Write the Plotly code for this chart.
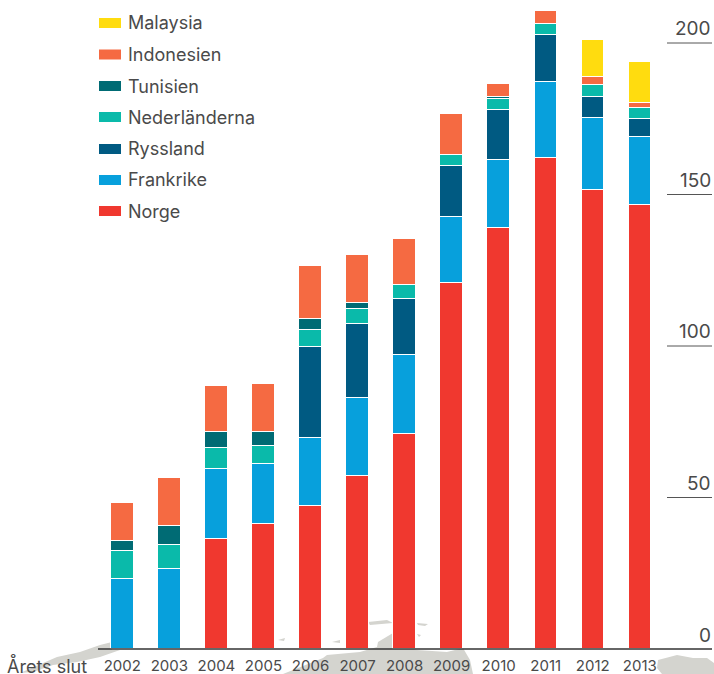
import plotly.graph_objects as go

W, H = 714, 674
BASE = 649

years = [2002, 2003, 2004, 2005, 2006, 2007, 2008, 2009, 2010, 2011, 2012, 2013]
norge = [None, None, 36.4, 41.1, 47.3, 57.2, 70.8, 120.9, 139.1, 162.2, 151.6, 146.7]
frankrike = [23.1, 26.4, 23.1, 20.1, 22.4, 25.7, 26.1, 21.8, 22.4, 24.8, 23.8, 22.4]
ryssland = [None, None, None, None, 30.0, 24.4, 18.5, 16.8, 16.5, 15.8, 6.9, 5.9]
nederlanderna = [9.2, 7.9, 6.9, 5.9, 5.6, 5.0, 4.6, 3.6, 3.6, 3.6, 4.0, 3.6]
tunisien = [3.3, 6.3, 5.3, 4.6, 3.6, 2.0, None, None, 0.6, None, None, None]
indonesien = [12.5, 15.8, 15.2, 15.8, 17.5, 15.8, 15.2, 13.5, 4.3, 4.0, 2.6, 1.7]
malaysia = [None, None, None, None, None, None, None, None, None, None, 12.2, 13.5]

series_names = ["Norge", "Frankrike", "Ryssland", "Nederländerna", "Tunisien", "Indonesien", "Malaysia"]
series_values = [norge, frankrike, ryssland, nederlanderna, tunisien, indonesien, malaysia]
series_colors = ["#F0382F", "#07A0DC", "#005A82", "#0ABAAA", "#006B74", "#F56A42", "#FFDC0F"]

y_ticks = [50, 100, 150, 200]
x_title = "Årets slut"
TEXT = "#4a4a4a"
FONT = "Inter"

# Decorative background map, in page pixels
map_shapes_px = [
    [(20, 673), (57, 657), (80, 652), (100, 645), (112, 642), (112, 650), (120, 650), (100, 657), (77, 662), (53, 665), (33, 672)],
    [(283, 674), (323, 658), (327, 655), (360, 652), (377, 647), (378, 642), (393, 633), (395, 643), (417, 650), (447, 652), (463, 648), (470, 660), (473, 674)],
    [(368, 622), (387, 620), (393, 623), (370, 625)],
    [(417, 623), (428, 624), (425, 626), (418, 625)],
    [(278, 640), (285, 638), (284, 641)],
    [(332, 642), (340, 640), (340, 643)],
    [(417, 634), (421, 635), (419, 637)],
    [(658, 660), (677, 655), (693, 658), (707, 658), (714, 663), (714, 674), (662, 674), (657, 668)],
]


def px(x):
    return x / W


def py(y):
    return 1 - y / BASE


fig = go.Figure()
for name, vals, col in zip(series_names, series_values, series_colors):
    fig.add_bar(x=years, y=vals, name=name, width=0.478, showlegend=False,
                marker=dict(color=col, line=dict(color="#ffffff", width=1)))

shapes = []
for poly in map_shapes_px:
    d = "M" + "L".join(f"{px(a):.5f},{py(b):.5f}" for a, b in poly) + "Z"
    shapes.append(dict(type="path", path=d, xref="paper", yref="paper", layer="below",
                       fillcolor="#d4d4cf", line=dict(width=0)))
shapes.append(dict(type="line", xref="paper", yref="paper", x0=px(98), x1=px(712), y0=py(BASE), y1=py(BASE),
                   line=dict(color="#333333", width=1.3), layer="above"))
annotations = []
for t in y_ticks:
    shapes.append(dict(type="line", xref="paper", yref="y", x0=px(667), x1=px(712), y0=t, y1=t,
                       line=dict(color="#555555", width=1)))
    annotations.append(dict(xref="paper", yref="y", x=px(713), y=t, text=str(t), showarrow=False,
                            xanchor="right", yanchor="bottom", yshift=1,
                            font=dict(size=19, color=TEXT, family=FONT)))
annotations.append(dict(xref="paper", yref="y", x=px(713), y=0, text="0", showarrow=False,
                        xanchor="right", yanchor="bottom", yshift=0, font=dict(size=19, color=TEXT, family=FONT)))
annotations.append(dict(xref="paper", yref="paper", x=px(5), y=py(665), text=x_title, showarrow=False,
                        xanchor="left", yanchor="middle", font=dict(size=18, color=TEXT, family=FONT)))

legend_y = [211, 180, 149, 117, 86, 54.5, 23]
for name, col, ly in zip(series_names, series_colors, legend_y):
    shapes.append(dict(type="rect", xref="paper", yref="paper", x0=px(99), x1=px(121), y0=py(ly - 5), y1=py(ly + 5),
                       fillcolor=col, line=dict(width=0)))
    annotations.append(dict(xref="paper", yref="paper", x=px(126), y=py(ly), text=name, showarrow=False,
                            xanchor="left", yanchor="middle", font=dict(size=18, color=TEXT, family=FONT)))

fig.update_layout(
    width=W, height=H, autosize=False,
    margin=dict(l=0, r=0, t=0, b=H - BASE, pad=0),
    paper_bgcolor="#ffffff", plot_bgcolor="rgba(0,0,0,0)",
    barmode="stack", bargap=0,
    shapes=shapes, annotations=annotations,
    xaxis=dict(range=[2002 - 122.3 / 47.05, 2002 + (W - 122.3) / 47.05], tickvals=years,
               ticktext=[str(y) for y in years], showgrid=False, zeroline=False, showline=False,
               ticks="", ticklen=0, ticklabelstandoff=6,
               tickfont=dict(size=15, color=TEXT, family=FONT), tickangle=0),
    yaxis=dict(range=[0, BASE / 3.03], showgrid=False, zeroline=False, showline=False,
               showticklabels=False, ticks=""),
    font=dict(family=FONT),
)
fig.write_html("out.html", config=dict(displayModeBar=False),
               post_script="document.body.style.margin='0';document.documentElement.style.overflow='hidden';")
